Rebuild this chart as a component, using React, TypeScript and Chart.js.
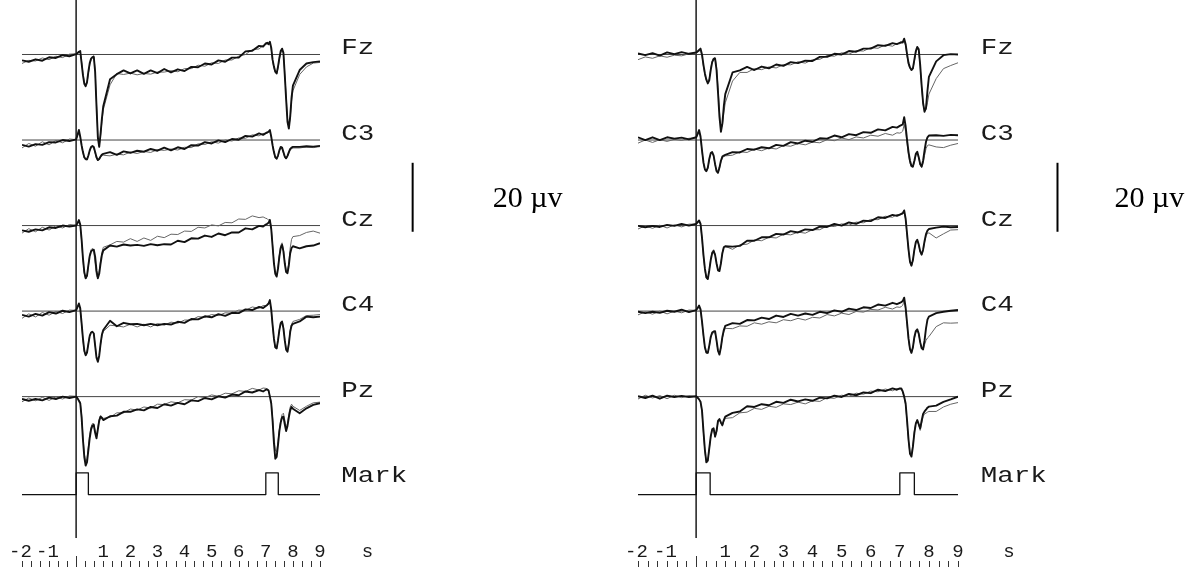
import React, { useEffect, useRef } from "react";
import { Chart, registerables } from "chart.js";

Chart.register(...registerables);

// Sample times (s) shared by every averaged trace; 0 = warning stimulus, 7 = imperative stimulus.
const TIME = [
  -2, -1.75, -1.5, -1.25, -1, -0.75, -0.5, -0.25,
  0, 0.05, 0.1, 0.15, 0.2, 0.25, 0.3, 0.35, 0.4, 0.45, 0.5, 0.55, 0.6, 0.65, 0.7, 0.75, 0.8, 0.85, 0.9, 0.95, 1,
  1.25, 1.5, 1.75, 2, 2.25, 2.5, 2.75, 3, 3.25, 3.5, 3.75, 4, 4.25, 4.5, 4.75, 5, 5.25, 5.5, 5.75, 6, 6.25, 6.5, 6.75, 6.9,
  7, 7.05, 7.1, 7.15, 7.2, 7.25, 7.3, 7.35, 7.4, 7.45, 7.5, 7.55, 7.6, 7.65, 7.7, 7.75, 7.8, 7.85, 7.9, 7.95, 8,
  8.25, 8.5, 8.75, 9,
];

const CHANNEL_NAMES = ["Fz", "C3", "Cz", "C4", "Pz", "Mark"];

// Bottom time axis
const TICK_VALUES = [-2, -1, 1, 2, 3, 4, 5, 6, 7, 8, 9];
const TICK_LABELS = ["-2", "-1", "1", "2", "3", "4", "5", "6", "7", "8", "9"];
const TIME_UNIT = "s";

// Marker channel: stimulus on/off edges (s) and state from each edge on
const MARK_STATE = [0, 1, 0, 1, 0, 0];
const LEFT_MARK_TIMES = [-2, 0, 0.45, 7.0, 7.46, 9];
const RIGHT_MARK_TIMES = [-2, 0, 0.48, 7.0, 7.5, 9];

// ---------- Left block: averaged potentials (µV), bold and fine traces ----------
const LEFT_FZ_BOLD = [
  -1.7, -2.1, -1.4, -1.8, -0.8, -1.0, -0.2, -0.5,
  0.1, 0.4, 0.8, 1.0, -2.5, -6.0, -8.5, -9.2, -8.0, -5.0, -2.5, -1.2, -0.8, -0.7, -5.0, -15.0, -24.0, -26.8, -23.0, -18.5, -15.0,
  -7.2, -5.7, -4.6, -5.5, -4.6, -5.6, -4.6, -5.4, -4.2, -5.2, -4.3, -4.8, -3.6, -3.7, -2.6, -2.9, -1.7, -2.1, -0.9, -0.9, 0.9, 1.1, 2.5, 2.3,
  3.2, 3.4, 3.0, 3.7, 2.0, -1.5, -3.5, -5.0, -5.5, -3.5, -1.0, 1.0, 1.7, 0.5, -6.0, -13.0, -19.5, -21.5, -18.0, -12.5, -9.0,
  -4.5, -2.6, -2.2, -2.0,
];
const LEFT_FZ_FINE = [
  -2.6, -1.7, -1.9, -1.0, -1.5, -0.5, -0.9, 0.1,
  0.2, 0.5, 0.6, 0.9, -2.0, -5.5, -8.0, -9.0, -8.3, -5.5, -3.0, -1.5, -0.6, -0.3, -4.5, -14.0, -23.5, -26.5, -23.5, -19.5, -16.0,
  -8.8, -5.5, -5.8, -5.4, -5.9, -5.5, -5.7, -5.1, -5.1, -4.7, -5.0, -4.1, -4.1, -3.1, -3.4, -2.4, -2.6, -1.6, -1.6, -0.5, 0.0, 1.4, 1.6, 2.6,
  2.9, 3.1, 2.8, 3.3, 1.5, -2.0, -4.0, -5.2, -5.6, -4.0, -1.5, 0.5, 1.3, 0.3, -5.5, -12.0, -18.5, -21.0, -18.5, -13.5, -10.5,
  -5.8, -3.6, -2.5, -2.3,
];
const LEFT_C3_BOLD = [
  -1.4, -1.9, -1.2, -1.4, -0.6, -0.7, 0.0, -0.3,
  0.2, 1.5, 2.9, 1.0, -1.5, -3.5, -5.0, -5.5, -5.6, -4.5, -3.0, -2.0, -1.7, -2.0, -3.5, -5.0, -5.8, -5.5, -4.8, -4.2, -4.0,
  -3.5, -4.3, -3.3, -3.7, -3.1, -3.4, -2.6, -3.1, -2.2, -3.0, -2.1, -2.6, -1.5, -1.6, -0.6, -1.0, -0.1, -0.6, 0.3, 0.1, 1.2, 1.0, 1.9, 1.5,
  2.0, 2.2, 2.4, 2.9, 1.0, -1.5, -3.5, -5.0, -5.4, -4.5, -3.0, -2.0, -2.2, -3.5, -4.8, -5.3, -4.6, -3.5, -2.6, -2.2, -2.0,
  -2.0, -1.8, -1.9, -1.7,
];
const LEFT_C3_FINE = [
  -2.3, -1.0, -1.8, -0.5, -1.4, -0.1, -0.8, 0.3,
  0.1, 1.3, 2.5, 0.8, -1.8, -3.8, -5.3, -5.8, -5.7, -4.6, -3.2, -2.2, -2.0, -2.3, -3.8, -5.3, -6.0, -5.6, -5.0, -4.6, -4.4,
  -4.6, -4.1, -4.3, -3.5, -3.9, -3.3, -3.6, -2.8, -3.0, -2.6, -2.9, -2.1, -2.2, -1.1, -1.3, -0.5, -0.9, 0.0, -0.3, 0.6, 0.5, 1.5, 1.2, 1.9,
  1.9, 2.0, 2.2, 2.6, 0.8, -1.8, -3.8, -5.2, -5.6, -4.7, -3.2, -2.3, -2.5, -3.8, -5.0, -5.5, -4.8, -3.8, -2.9, -2.5, -2.3,
  -2.3, -2.0, -2.2, -1.9,
];
const LEFT_CZ_BOLD = [
  -1.4, -1.8, -1.1, -1.4, -0.5, -0.7, 0.0, -0.3,
  0.0, 0.7, 1.6, 0.3, -4.0, -9.5, -13.5, -15.3, -14.5, -11.5, -8.8, -7.5, -7.1, -7.0, -9.0, -13.0, -15.3, -14.0, -11.0, -8.5, -7.2,
  -5.8, -6.1, -5.5, -5.8, -5.6, -5.9, -5.4, -5.7, -5.4, -5.5, -4.4, -4.8, -3.7, -3.8, -2.9, -3.3, -2.3, -2.8, -2.0, -2.0, -0.8, -1.1, -0.1, -0.3,
  0.3, 0.5, 0.8, 1.6, -1.0, -6.0, -11.0, -14.0, -14.8, -12.5, -9.0, -6.5, -5.6, -7.5, -11.0, -13.5, -13.8, -11.5, -8.0, -6.5, -6.0,
  -6.6, -6.0, -5.8, -5.1,
];
const LEFT_CZ_FINE = [
  -2.2, -0.9, -1.8, -0.5, -1.3, -0.1, -0.7, 0.3,
  0.1, 0.8, 1.4, 0.2, -4.5, -10.0, -14.0, -15.5, -14.8, -11.8, -8.5, -7.0, -6.6, -7.5, -11.0, -14.5, -15.2, -13.2, -10.2, -7.8, -6.3,
  -5.6, -4.6, -4.8, -3.8, -4.6, -3.6, -4.3, -3.1, -3.5, -2.5, -2.6, -1.6, -1.7, -0.5, -0.7, 0.2, -0.1, 0.9, 0.8, 1.9, 1.8, 2.8, 2.3, 2.5,
  2.1, 2.0, 1.6, 1.8, -0.5, -5.5, -10.5, -13.8, -14.6, -12.0, -8.5, -5.8, -5.0, -7.0, -10.5, -13.0, -13.5, -10.5, -6.5, -4.0, -3.2,
  -2.9, -2.0, -1.6, -2.2,
];
const LEFT_C4_BOLD = [
  -1.1, -1.6, -0.8, -1.3, -0.3, -0.7, 0.1, -0.3,
  0.3, 1.2, 2.2, 0.8, -3.5, -8.0, -11.5, -12.8, -12.0, -9.5, -7.2, -6.2, -6.0, -6.5, -10.0, -13.5, -14.7, -13.0, -9.5, -6.8, -5.5,
  -2.8, -4.4, -3.4, -3.8, -3.7, -4.1, -3.7, -4.1, -3.7, -3.9, -3.1, -3.4, -2.3, -2.4, -1.5, -1.8, -0.9, -1.4, -0.5, -0.6, 0.5, 0.3, 1.2, 0.9,
  1.5, 1.8, 2.2, 3.2, 0.5, -4.0, -8.0, -10.5, -10.8, -8.5, -5.5, -3.5, -3.1, -5.0, -8.5, -11.2, -11.8, -9.5, -6.0, -4.2, -3.7,
  -3.0, -1.6, -1.8, -1.6,
];
const LEFT_C4_FINE = [
  -2.1, -0.8, -1.7, -0.4, -1.2, -0.1, -0.7, 0.3,
  0.2, 1.0, 1.9, 0.6, -3.8, -8.5, -11.8, -12.9, -12.0, -9.3, -7.0, -6.0, -5.9, -6.4, -9.8, -13.2, -14.3, -12.8, -9.8, -7.2, -5.9,
  -4.1, -4.3, -4.6, -3.8, -4.6, -3.8, -4.6, -3.6, -4.1, -3.2, -3.5, -2.6, -2.6, -1.6, -1.8, -1.0, -1.3, -0.5, -0.6, 0.3, 0.2, 1.2, 0.8, 1.6,
  1.6, 1.7, 2.0, 2.8, 0.2, -4.2, -8.3, -10.8, -11.0, -8.6, -5.3, -3.2, -2.8, -4.6, -8.2, -11.0, -11.6, -9.2, -5.6, -3.8, -3.0,
  -2.4, -1.3, -1.2, -1.0,
];
const LEFT_PZ_BOLD = [
  -0.7, -1.2, -0.7, -1.1, -0.3, -0.7, 0.0, -0.4,
  0.0, -0.5, -1.2, -1.9, -6.0, -12.5, -17.5, -20.0, -19.0, -15.5, -12.0, -9.5, -8.4, -8.2, -10.5, -12.1, -9.5, -7.0, -5.8, -6.2, -6.8,
  -5.7, -5.5, -4.4, -4.4, -3.7, -4.0, -3.0, -3.3, -2.2, -2.6, -1.8, -2.2, -1.1, -1.3, -0.4, -0.8, 0.1, -0.3, 0.6, 0.4, 1.5, 1.2, 1.9, 1.5,
  2.0, 2.1, 1.8, 0.0, -2.0, -7.0, -13.5, -18.0, -17.5, -14.0, -10.0, -7.5, -6.0, -5.8, -8.0, -10.0, -8.5, -6.0, -4.0, -3.0, -3.5,
  -4.8, -3.4, -2.4, -1.9,
];
const LEFT_PZ_FINE = [
  -1.5, -0.4, -1.2, -0.2, -1.1, -0.1, -0.7, 0.2,
  0.1, -0.4, -1.0, -1.6, -5.2, -11.5, -16.5, -19.0, -18.0, -14.5, -11.0, -8.8, -7.8, -7.8, -10.0, -11.5, -9.0, -6.5, -5.5, -5.8, -6.3,
  -6.0, -4.7, -4.7, -3.6, -3.9, -3.0, -3.3, -2.2, -2.3, -1.5, -1.8, -0.9, -1.0, 0.0, -0.3, 0.5, 0.1, 1.0, 0.8, 1.7, 1.5, 2.4, 1.9, 2.5,
  2.4, 2.3, 1.9, 0.2, -1.5, -6.0, -11.5, -15.5, -16.0, -13.0, -9.5, -7.0, -5.2, -4.8, -6.8, -9.0, -7.8, -5.0, -3.0, -2.2, -2.8,
  -4.0, -2.8, -1.8, -1.6,
];

// ---------- Right block ----------
const RIGHT_FZ_BOLD = [
  0.3, -0.2, 0.4, -0.3, 0.6, 0.1, 0.7, 0.2,
  0.6, 0.9, 1.3, 1.7, 0.0, -3.0, -5.5, -7.3, -8.4, -7.5, -4.5, -2.2, -1.3, -1.2, -4.5, -11.0, -18.0, -22.4, -20.0, -15.0, -11.5,
  -5.2, -4.6, -3.6, -4.5, -3.5, -4.0, -2.9, -3.3, -2.2, -2.5, -1.8, -1.9, -0.7, -0.7, 0.2, 0.0, 1.0, 0.8, 1.7, 1.7, 2.7, 2.5, 3.3, 3.0,
  3.4, 3.6, 3.5, 4.6, 3.0, 0.0, -2.5, -3.8, -4.5, -4.0, -1.5, 1.0, 2.2, 1.5, -3.0, -9.0, -14.0, -16.6, -15.5, -10.5, -6.5,
  -2.0, -0.2, 0.1, 0.0,
];
const RIGHT_FZ_FINE = [
  -1.5, -0.7, -1.1, -0.4, -0.8, -0.2, -0.4, 0.2,
  0.3, 0.7, 1.0, 1.2, -0.5, -3.5, -6.0, -7.5, -8.2, -7.0, -4.0, -2.0, -1.0, -0.8, -3.5, -9.5, -16.5, -21.5, -20.5, -17.0, -14.0,
  -7.7, -5.2, -5.2, -4.1, -4.4, -3.6, -3.9, -2.9, -3.0, -2.1, -2.5, -1.5, -1.4, -0.3, -0.5, 0.5, 0.1, 1.1, 1.0, 2.0, 1.8, 2.8, 2.4, 3.2,
  3.1, 3.3, 3.4, 4.0, 2.5, -0.5, -3.0, -4.0, -4.5, -4.2, -2.0, 0.5, 1.8, 1.0, -3.5, -9.5, -14.5, -16.5, -16.0, -14.0, -11.5,
  -7.0, -4.1, -3.2, -2.4,
];
const RIGHT_C3_BOLD = [
  0.8, 0.0, 0.8, 0.0, 0.8, 0.4, 0.7, 0.2,
  0.8, 1.8, 2.9, 1.0, -3.0, -6.5, -8.5, -9.0, -8.0, -5.5, -3.8, -3.5, -4.5, -7.0, -9.0, -9.5, -8.0, -6.0, -4.8, -4.5, -4.3,
  -3.5, -3.6, -2.6, -2.8, -2.1, -2.4, -1.4, -1.7, -0.6, -1.0, -0.2, -0.5, 0.5, 0.4, 1.3, 0.8, 1.7, 1.4, 2.3, 2.1, 3.1, 2.8, 3.8, 3.6,
  4.1, 4.3, 4.5, 6.6, 4.0, 0.0, -3.5, -6.0, -7.5, -7.7, -6.0, -4.0, -3.4, -5.0, -7.0, -7.7, -6.0, -3.0, -0.5, 0.8, 1.3,
  1.4, 1.2, 1.5, 1.4,
];
const RIGHT_C3_FINE = [
  -0.9, 0.0, -0.7, 0.1, -0.4, 0.2, -0.1, 0.5,
  0.6, 1.5, 2.5, 0.7, -3.2, -6.8, -8.8, -9.2, -8.3, -5.8, -4.0, -3.7, -4.7, -7.2, -9.2, -9.6, -8.2, -6.3, -5.2, -4.8, -4.6,
  -4.4, -3.4, -3.6, -2.6, -3.1, -2.3, -2.6, -1.6, -1.8, -1.0, -1.4, -0.6, -0.8, 0.1, -0.2, 0.6, 0.1, 0.9, 0.6, 1.4, 1.1, 1.9, 1.4, 2.1,
  2.0, 2.2, 2.6, 4.5, 2.5, -1.0, -4.5, -6.8, -7.8, -7.9, -6.5, -4.5, -3.8, -5.2, -7.2, -8.0, -6.8, -4.5, -2.5, -1.6, -1.4,
  -2.0, -2.2, -1.5, -1.0,
];
const RIGHT_CZ_BOLD = [
  -0.1, -0.5, -0.1, -0.4, 0.2, -0.1, 0.5, 0.0,
  0.5, 1.0, 1.5, 0.5, -3.5, -8.5, -12.5, -15.0, -15.5, -13.0, -10.0, -8.0, -7.4, -8.5, -11.0, -13.0, -13.2, -11.0, -8.0, -6.3, -6.0,
  -6.1, -5.9, -4.4, -4.4, -3.4, -3.4, -2.4, -2.6, -1.6, -2.0, -1.1, -1.3, -0.3, -0.4, 0.5, 0.0, 0.9, 0.5, 1.4, 1.3, 2.4, 2.2, 3.1, 2.8,
  3.2, 3.4, 3.6, 4.4, 2.0, -2.5, -7.0, -10.5, -11.6, -10.0, -7.0, -4.8, -4.1, -5.5, -7.5, -8.4, -7.0, -4.5, -2.5, -1.5, -1.0,
  -0.6, -0.3, -0.5, -0.4,
];
const RIGHT_CZ_FINE = [
  -1.0, -0.1, -0.8, 0.1, -0.7, 0.2, -0.4, 0.4,
  0.4, 0.8, 1.2, 0.3, -3.8, -9.0, -13.0, -15.3, -15.5, -12.8, -9.6, -7.6, -7.0, -8.2, -10.8, -12.8, -13.0, -10.8, -7.8, -6.2, -6.0,
  -6.9, -5.6, -5.4, -4.2, -4.4, -3.4, -3.6, -2.5, -2.7, -1.9, -2.2, -1.2, -1.2, -0.1, -0.3, 0.5, 0.1, 1.0, 0.8, 1.8, 1.7, 2.7, 2.4, 3.2,
  3.1, 3.2, 3.3, 4.0, 1.6, -3.0, -7.5, -10.8, -11.8, -10.2, -7.3, -5.0, -4.2, -5.6, -7.6, -8.6, -7.4, -5.0, -3.0, -2.3, -2.1,
  -3.6, -2.4, -1.3, -1.2,
];
const RIGHT_C4_BOLD = [
  -0.2, -0.6, -0.2, -0.5, 0.1, -0.2, 0.4, -0.3,
  0.3, 0.9, 1.6, 0.5, -3.0, -7.0, -10.5, -12.0, -12.1, -10.0, -7.5, -6.2, -5.9, -5.8, -8.5, -11.5, -12.6, -10.5, -7.5, -5.5, -4.3,
  -3.5, -3.7, -2.6, -2.7, -1.9, -2.3, -1.3, -1.7, -0.8, -1.3, -0.7, -1.1, -0.2, -0.6, 0.2, -0.2, 0.7, 0.3, 1.1, 0.9, 1.9, 1.6, 2.4, 2.0,
  2.4, 2.6, 2.9, 3.9, 1.0, -3.5, -8.0, -11.0, -12.1, -10.5, -7.5, -5.8, -5.3, -6.5, -9.0, -10.8, -11.1, -8.5, -5.0, -2.5, -1.6,
  -0.6, -0.2, 0.1, 0.3,
];
const RIGHT_C4_FINE = [
  -1.1, -0.2, -0.9, 0.0, -0.8, 0.0, -0.5, 0.3,
  0.2, 0.7, 1.3, 0.3, -3.3, -7.3, -10.8, -12.2, -12.3, -10.3, -7.8, -6.5, -6.3, -6.3, -8.8, -11.6, -12.5, -10.6, -7.8, -6.0, -5.0,
  -5.1, -4.3, -4.4, -3.4, -3.8, -3.1, -3.4, -2.5, -2.8, -2.1, -2.6, -1.8, -2.0, -1.0, -1.4, -0.6, -1.0, -0.1, -0.3, 0.5, 0.3, 1.1, 0.6, 1.2,
  1.1, 1.3, 1.7, 3.0, 0.5, -4.0, -8.5, -11.3, -12.2, -10.8, -8.0, -6.2, -5.6, -6.8, -9.0, -10.8, -11.2, -9.8, -8.5, -7.8, -7.4,
  -4.5, -3.4, -3.5, -3.4,
];
const RIGHT_PZ_BOLD = [
  0.1, -0.4, 0.3, -0.6, 0.3, -0.1, 0.2, -0.1,
  0.1, -0.3, -0.8, -1.5, -4.0, -10.0, -15.5, -19.0, -18.5, -15.0, -11.5, -9.5, -9.2, -11.6, -10.0, -7.0, -6.5, -7.5, -8.2, -6.8, -5.8,
  -4.7, -4.3, -2.8, -3.0, -2.2, -2.5, -1.5, -1.8, -0.9, -1.4, -0.8, -1.2, -0.3, -0.5, 0.3, -0.1, 0.8, 0.4, 1.2, 1.0, 2.0, 1.6, 2.4, 2.0,
  2.4, 2.4, 1.5, 0.0, -2.0, -7.0, -12.5, -16.5, -17.4, -14.5, -10.5, -7.8, -6.8, -8.0, -9.2, -7.0, -5.0, -4.3, -3.8, -3.2, -2.9,
  -2.6, -1.5, -0.8, 0.0,
];
const RIGHT_PZ_FINE = [
  -0.7, 0.4, -0.4, 0.3, -0.6, 0.4, -0.3, 0.3,
  0.0, -0.4, -0.9, -1.6, -4.5, -10.5, -16.0, -19.3, -18.8, -15.2, -11.8, -9.8, -9.5, -11.8, -10.3, -7.4, -6.8, -7.8, -8.6, -7.2, -6.3,
  -6.1, -4.7, -4.5, -3.4, -3.7, -2.8, -3.1, -2.1, -2.3, -1.6, -2.1, -1.2, -1.4, -0.3, -0.5, 0.4, 0.1, 1.0, 0.7, 1.6, 1.4, 2.2, 1.7, 2.3,
  2.2, 2.1, 1.3, -0.2, -2.5, -7.5, -13.0, -16.8, -17.0, -14.0, -10.0, -7.5, -6.8, -8.3, -9.8, -7.8, -5.8, -5.0, -4.8, -4.5, -4.3,
  -4.3, -3.0, -2.2, -1.7,
];

// ---------- Layout constants (µV / s units) ----------
const CHANNEL_GAP = 24.8; // vertical spacing between channel baselines (µV)
const Y_MAX = 15.8;
const Y_MIN = -148.6;
const MARK_LOW = -3.6;
const MARK_HIGH = 2.7;
const CURSOR_BOTTOM = -140.2; // lower end of the t = 0 cursor
const NAME_TIME = 9.78; // channel names sit just right of the traces
const UNIT_TIME = 10.75; // "s" after the time labels
const SCALE_BAR_TIME = 12.42;
const SCALE_BAR_TOP = -31.4;
const SCALE_BAR_UV = 20;
const SCALE_TEXT_BASE = -44.2;
const CANVAS_W = 598;
const CANVAS_H = 567;

const INK = "#1a1a1a";

type PanelSpec = {
  bold: number[][];
  fine: number[][];
  markTimes: number[];
  padLeft: number;
  padRight: number;
  unitGap: number;
};

const LEFT_PANEL: PanelSpec = {
  bold: [LEFT_FZ_BOLD, LEFT_C3_BOLD, LEFT_CZ_BOLD, LEFT_C4_BOLD, LEFT_PZ_BOLD],
  fine: [LEFT_FZ_FINE, LEFT_C3_FINE, LEFT_CZ_FINE, LEFT_C4_FINE, LEFT_PZ_FINE],
  markTimes: LEFT_MARK_TIMES,
  padLeft: 22,
  padRight: 278,
  unitGap: 80,
};

const RIGHT_PANEL: PanelSpec = {
  bold: [RIGHT_FZ_BOLD, RIGHT_C3_BOLD, RIGHT_CZ_BOLD, RIGHT_C4_BOLD, RIGHT_PZ_BOLD],
  fine: [RIGHT_FZ_FINE, RIGHT_C3_FINE, RIGHT_CZ_FINE, RIGHT_C4_FINE, RIGHT_PZ_FINE],
  markTimes: RIGHT_MARK_TIMES,
  padLeft: 40,
  padRight: 238,
  unitGap: 57,
};

function traceData(values: number[], offset: number) {
  const n = Math.min(TIME.length, values.length);
  const out: { x: number; y: number }[] = [];
  for (let i = 0; i < n; i++) out.push({ x: TIME[i], y: values[i] + offset });
  return out;
}

function decorPlugin(spec: PanelSpec) {
  return {
    id: "eegDecor",
    afterDraw(chart: any) {
      const { ctx } = chart;
      const xs = chart.scales.x;
      const ys = chart.scales.y;
      ctx.save();
      ctx.fillStyle = INK;
      ctx.textBaseline = "alphabetic";

      // channel names
      ctx.font = '22px "Liberation Mono", monospace';
      ctx.textAlign = "left";
      const nx = xs.getPixelForValue(NAME_TIME);
      CHANNEL_NAMES.forEach((name, i) => {
        const ny = ys.getPixelForValue(-i * CHANNEL_GAP);
        ctx.save();
        ctx.translate(nx, ny);
        ctx.scale(1.25, 1);
        ctx.fillText(name, 0, 0);
        ctx.restore();
      });

      // time labels
      const labelY = CANVAS_H - 10;
      ctx.font = '19px "Liberation Mono", monospace';
      TICK_VALUES.forEach((v, i) => {
        const p = xs.getPixelForValue(v);
        if (v < 0) {
          ctx.textAlign = "left";
          ctx.fillText(TICK_LABELS[i], p - 13, labelY);
        } else {
          ctx.textAlign = "center";
          ctx.fillText(TICK_LABELS[i], p, labelY);
        }
      });
      ctx.textAlign = "center";
      ctx.fillText(TIME_UNIT, xs.getPixelForValue(UNIT_TIME), labelY);

      // minor ticks every 1/3 s
      ctx.strokeStyle = "#333";
      ctx.lineWidth = 1;
      ctx.beginPath();
      for (let k = -6; k <= 27; k++) {
        const p = Math.round(xs.getPixelForValue(k / 3)) + 0.5;
        ctx.moveTo(p, k === 0 ? CANVAS_H - 11 : CANVAS_H - 6);
        ctx.lineTo(p, CANVAS_H);
      }
      ctx.stroke();

      // amplitude scale bar
      const bx = xs.getPixelForValue(SCALE_BAR_TIME);
      ctx.strokeStyle = "#000";
      ctx.lineWidth = 2;
      ctx.beginPath();
      ctx.moveTo(bx, ys.getPixelForValue(SCALE_BAR_TOP));
      ctx.lineTo(bx, ys.getPixelForValue(SCALE_BAR_TOP - SCALE_BAR_UV));
      ctx.stroke();
      ctx.font = '30px "Liberation Serif", serif';
      ctx.textAlign = "left";
      ctx.fillStyle = "#000";
      ctx.fillText("20 µv", bx + spec.unitGap, ys.getPixelForValue(SCALE_TEXT_BASE));
      ctx.restore();
    },
  };
}

function Panel({ spec, left }: { spec: PanelSpec; left: number }) {
  const ref = useRef<HTMLCanvasElement>(null);
  useEffect(() => {
    const canvas = ref.current;
    if (!canvas) return;
    const datasets: any[] = [];
    const line = (data: any, color: string, width: number, extra: any = {}) => ({
      data,
      borderColor: color,
      borderWidth: width,
      pointRadius: 0,
      fill: false,
      tension: 0,
      borderJoinStyle: "round",
      ...extra,
    });
    spec.bold.forEach((vals, i) => datasets.push(line(traceData(vals, -i * CHANNEL_GAP), "#111", 1.9)));
    spec.fine.forEach((vals, i) => datasets.push(line(traceData(vals, -i * CHANNEL_GAP), "#666", 1)));
    const markOffset = -5 * CHANNEL_GAP;
    datasets.push(
      line(
        spec.markTimes.map((t, i) => ({ x: t, y: markOffset + (MARK_STATE[i] ? MARK_HIGH : MARK_LOW) })),
        "#111",
        1.3,
        { stepped: "before" }
      )
    );
    datasets.push(line([{ x: 0, y: Y_MAX }, { x: 0, y: CURSOR_BOTTOM }], "#333", 1, { clip: false }));
    for (let i = 0; i < 5; i++) {
      datasets.push(line([{ x: -2, y: -i * CHANNEL_GAP }, { x: 9, y: -i * CHANNEL_GAP }], "#444", 1));
    }

    const chart = new Chart(canvas, {
      type: "line",
      data: { datasets },
      options: {
        animation: false,
        responsive: false,
        devicePixelRatio: 1,
        events: [],
        layout: { padding: { left: spec.padLeft, right: spec.padRight, top: 0, bottom: 0 } },
        scales: {
          x: { type: "linear", min: -2, max: 9, display: false },
          y: { type: "linear", min: Y_MIN, max: Y_MAX, display: false },
        },
        plugins: { legend: { display: false }, tooltip: { enabled: false } },
      },
      plugins: [decorPlugin(spec)],
    } as any);
    return () => chart.destroy();
  }, [spec]);
  return (
    <canvas
      ref={ref}
      width={CANVAS_W}
      height={CANVAS_H}
      style={{ position: "absolute", left, top: 0, width: CANVAS_W, height: CANVAS_H }}
    />
  );
}

export default function App() {
  return (
    <div style={{ position: "fixed", left: 0, top: 0, width: 1196, height: 567, background: "#fff", overflow: "hidden" }}>
      <Panel spec={LEFT_PANEL} left={0} />
      <Panel spec={RIGHT_PANEL} left={CANVAS_W} />
    </div>
  );
}
